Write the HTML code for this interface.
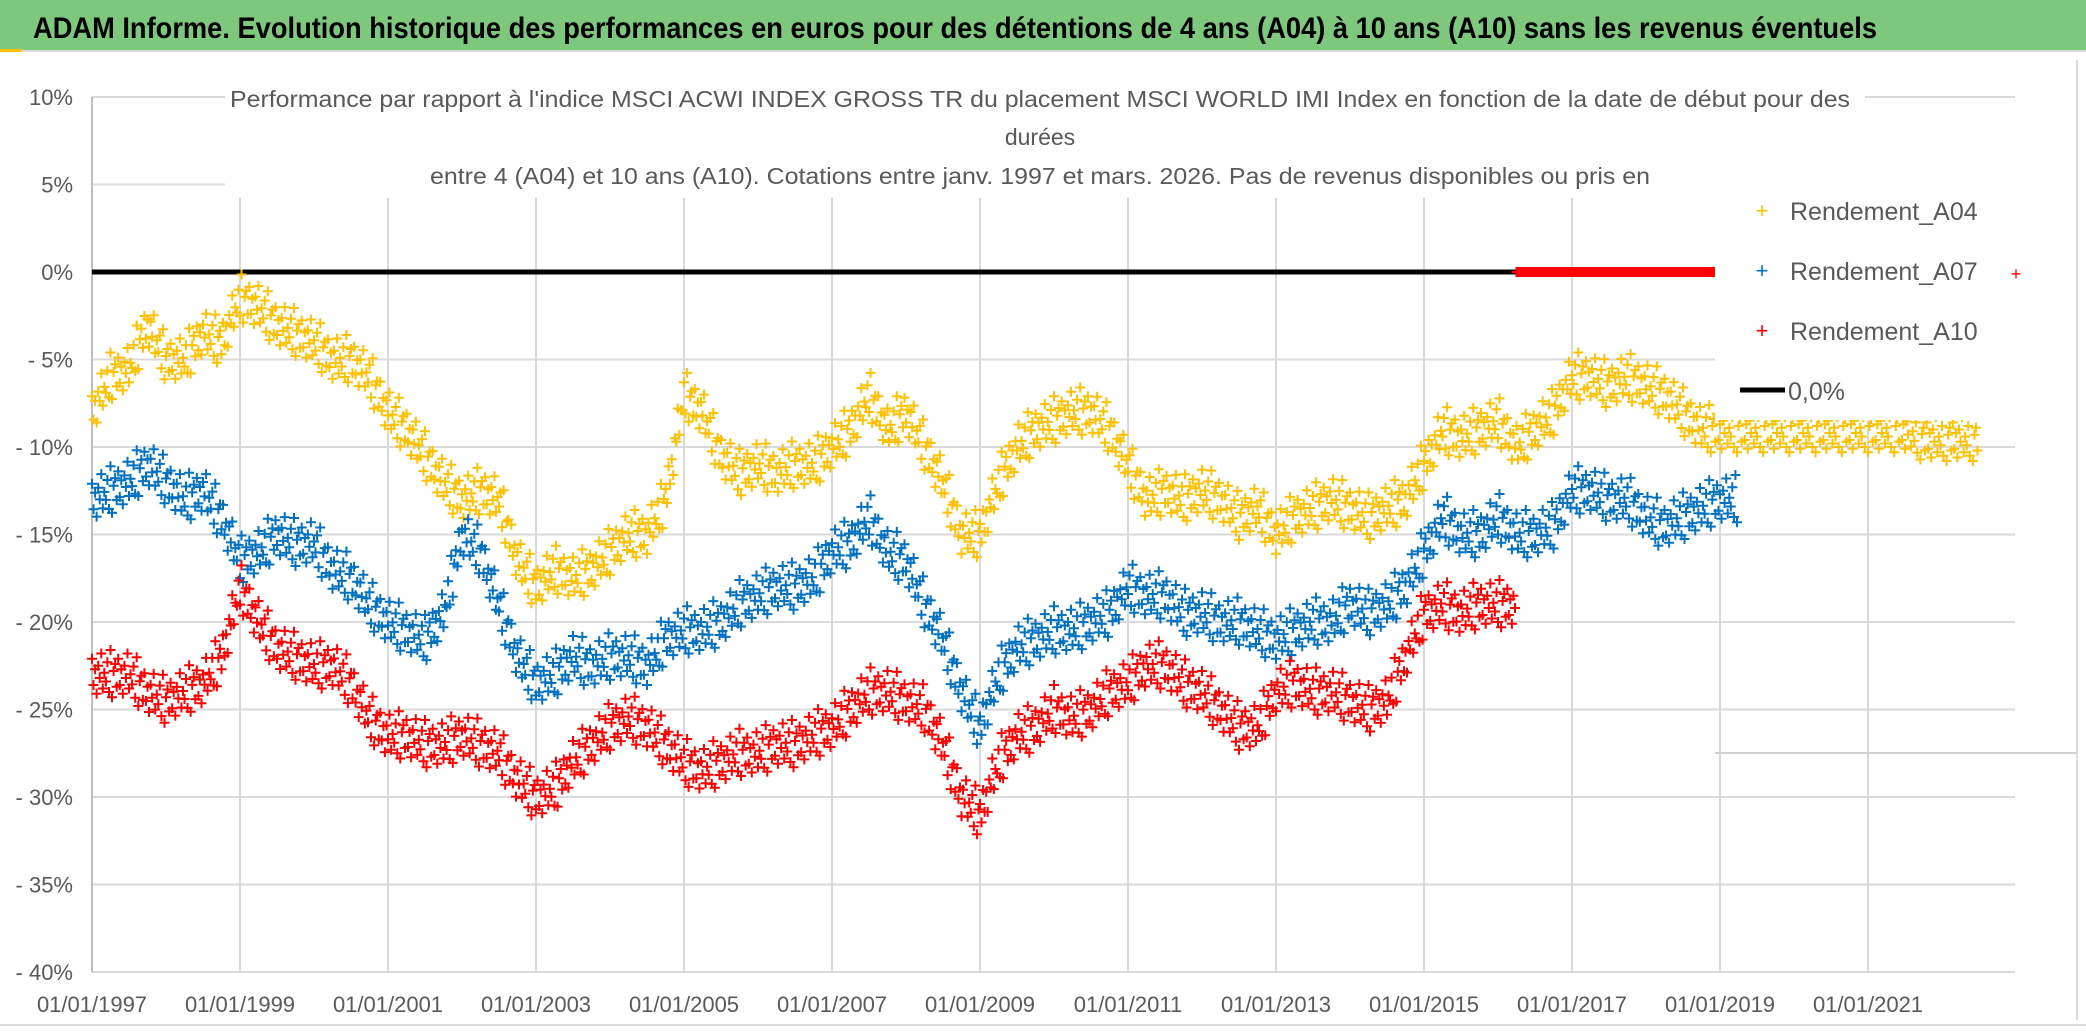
<!DOCTYPE html>
<html><head><meta charset="utf-8"><style>
body{margin:0;background:#fff;width:2086px;height:1031px;overflow:hidden}
svg{display:block;font-family:"Liberation Sans",sans-serif}
</style></head><body>
<svg id="c" width="2086" height="1031">
<rect x="0" y="0" width="2086" height="50" fill="#7DC87D"/>
<line x1="0" y1="51" x2="2086" y2="51" stroke="#ddd" stroke-width="2"/>
<rect x="0" y="49" width="22" height="3" fill="#FFC000"/>
<text x="33" y="38" font-size="30" font-weight="bold" fill="#000" textLength="1844" lengthAdjust="spacingAndGlyphs">ADAM Informe. Evolution historique des performances en euros pour des détentions de 4 ans (A04) à 10 ans (A10) sans les revenus éventuels</text>
<line x1="2077" y1="60" x2="2077" y2="1020" stroke="#ddd" stroke-width="2"/>
<line x1="0" y1="1025" x2="2086" y2="1025" stroke="#ddd" stroke-width="2"/>
<g id="grid"></g>
<g id="marks"></g>
<rect x="225" y="75" width="1640" height="120" fill="#fff"/>
<text x="1040" y="107" font-size="23" fill="#595959" text-anchor="middle" textLength="1620" lengthAdjust="spacingAndGlyphs">Performance par rapport à l'indice MSCI ACWI INDEX GROSS TR  du placement MSCI WORLD IMI Index en fonction de la date de début pour des</text>
<text x="1040" y="145" font-size="23" fill="#595959" text-anchor="middle">durées</text>
<text x="1040" y="184" font-size="23" fill="#595959" text-anchor="middle" textLength="1220" lengthAdjust="spacingAndGlyphs">entre 4 (A04) et 10 ans (A10). Cotations entre janv. 1997 et mars. 2026. Pas de revenus disponibles ou pris en</text>
<g id="axes"></g>
<g id="legend">
<rect x="1715" y="180" width="300" height="240" fill="#fff"/>
<text x="1762" y="218" font-size="22" fill="#FFC000" text-anchor="middle">+</text>
<text x="1790" y="220" font-size="25" fill="#595959">Rendement_A04</text>
<text x="1762" y="278" font-size="22" fill="#0070C0" text-anchor="middle">+</text>
<text x="1790" y="280" font-size="25" fill="#595959">Rendement_A07</text>
<text x="1762" y="338" font-size="22" fill="#FF0000" text-anchor="middle">+</text>
<text x="1790" y="340" font-size="25" fill="#595959">Rendement_A10</text>
<line x1="1740" y1="390" x2="1785" y2="390" stroke="#000" stroke-width="5"/>
<text x="1788" y="400" font-size="25" fill="#595959">0,0%</text>
<text x="2016" y="280" font-size="18" fill="#FF0000" text-anchor="middle">+</text>
</g>
</svg>
<script>
const yTicks=[10,5,0,-5,-10,-15,-20,-25,-30,-35,-40];
const yTickLabels=["10%","5%","0%","- 5%","- 10%","- 15%","- 20%","- 25%","- 30%","- 35%","- 40%"];
const xTicks=[1997,1999,2001,2003,2005,2007,2009,2011,2013,2015,2017,2019,2021];
const xTickLabels=["01/01/1997","01/01/1999","01/01/2001","01/01/2003","01/01/2005","01/01/2007","01/01/2009","01/01/2011","01/01/2013","01/01/2015","01/01/2017","01/01/2019","01/01/2021"];
const startYear=1997, step=0.25;
const a04=[-8,-6,-5.5,-3,-5,-5,-3.5,-4,-1.5,-2,-3,-3.5,-4,-5,-5,-6,-8,-9,-10.5,-12,-13,-12.5,-13,-16.5,-18,-17,-17.5,-17,-16,-15,-15,-13,-7,-8,-10.5,-11.5,-11,-11.5,-11,-11,-10,-9,-7,-9,-8,-10,-12,-15,-15,-12,-10,-9,-8.5,-8,-8,-9,-11,-13,-12.5,-13,-12.5,-13,-14,-13.5,-15,-14,-13.5,-13,-13.5,-14,-13.5,-13,-11,-9,-9.5,-9,-8.5,-10,-9,-8,-6,-6,-6.5,-6,-6.5,-7,-8,-9,-9,-9,-9,-9,-9,-9,-9,-9,-9,-9,-9,-9.5,-9.5,-9.5];
const a07=[-13,-12.5,-12,-11,-12,-13,-12.5,-14,-16.5,-16,-15,-15.5,-15.5,-17,-17.5,-19,-20,-20.5,-21,-19.5,-15,-16,-19,-22,-23.5,-23,-22,-22.5,-22,-22,-22.5,-21,-20.5,-20.5,-20,-19,-18.5,-18,-18,-17.5,-16,-15.5,-14,-16,-16.5,-19,-21,-24,-26,-23,-21.5,-21,-20.5,-20.5,-20,-19.5,-18,-18.5,-18.5,-19.5,-19.5,-20,-20,-20.5,-21,-20.5,-20,-20,-19,-19.5,-19,-18,-16,-14,-15,-15,-14,-15,-15,-14.5,-12.5,-12.5,-13,-13,-14,-14.5,-14,-13.5,-13];
const a10=[-23,-23,-23,-24,-24.5,-24,-23.5,-22,-18,-20,-21.5,-22,-22.5,-22.5,-23.5,-25.5,-26.5,-26.5,-27,-27,-26.5,-27,-27.5,-29,-30,-29.5,-28,-27,-26,-25.5,-26,-27,-28,-28.5,-28,-27.5,-27.5,-27,-27,-26.5,-26,-25,-24,-24,-24.5,-25,-27,-30,-31,-28,-26.5,-26,-25,-25.5,-25,-24,-23.5,-22.5,-22.5,-23.5,-24,-25,-26,-26,-24,-23.5,-24,-24,-24.5,-25,-24.5,-22,-19.5,-19,-19.5,-19,-19,0,0,0,0,0,0,0,0,0,0,0];
const spread=[0.9,-0.6,0.3,-1.1,0.5,-0.2,1.2,-0.8,0.1,-0.4,0.7,-1.0,1.4,-1.3,0.2,0.6,-0.7];
const NS="http://www.w3.org/2000/svg";
const X0=92,PXY=74,Y0=272,PXP=17.5;
const xs=y=>X0+(y-1997)*PXY, ys=v=>Y0-v*PXP;
const grid=document.getElementById('grid'),axes=document.getElementById('axes'),marks=document.getElementById('marks');
function mk(t,a,p){const e=document.createElementNS(NS,t);for(const k in a)e.setAttribute(k,a[k]);(p||grid).appendChild(e);return e;}
yTicks.forEach((v,i)=>{
 const l=mk('line',{x1:X0,x2:2015,y1:ys(v),y2:ys(v),stroke:'#d9d9d9','stroke-width':2});
 
 
 const t=mk('text',{x:73,y:ys(v)+8,'font-size':22,fill:'#595959','text-anchor':'end'},axes);
 t.textContent=yTickLabels[i];
 
 
});
xTicks.forEach((y,i)=>{
 const l=mk('line',{x1:xs(y),x2:xs(y),y1:198,y2:ys(-40),stroke:'#d9d9d9','stroke-width':2});
 
 
 const t=mk('text',{x:xs(y),y:1012,'font-size':22,fill:'#595959','text-anchor':'middle'},axes);
 t.textContent=xTickLabels[i];
 
 
});
mk('line',{x1:X0,x2:X0,y1:ys(10),y2:ys(-40),stroke:'#bfbfbf','stroke-width':2});
mk('line',{x1:1715,x2:2077,y1:753,y2:753,stroke:'#d0d0d0','stroke-width':2});
const zl=mk('line',{x1:X0,x2:1518,y1:ys(0),y2:ys(0),stroke:'#000','stroke-width':5},marks);


function series(vals,color,name){
 let d='';const N=12,s=5;let c=0;
 for(let i=0;i<vals.length;i++){
  let nxt=i+1<vals.length?vals[i+1]:vals[i];
  if(vals[i]===0||nxt===0) nxt=vals[i];
  for(let k=0;k<N;k++){
   const f=k/N,yr=startYear+(i+f)*step;
   const off=vals[i]===0?0:spread[c++%spread.length];
   const v=vals[i]+(nxt-vals[i])*f+off;
   const x=xs(yr),y=ys(v);
   d+=`M${(x-s).toFixed(1)} ${y.toFixed(1)}h${2*s}M${x.toFixed(1)} ${(y-s).toFixed(1)}v${2*s}`;
  }
 }
 const p=mk('path',{d:d,stroke:color,'stroke-width':2,fill:'none'},marks);
 
 
}
series(a04,'#FFC000','series-a04');
series(a07,'#0070C0','series-a07');
series(a10,'#FF0000','series-a10');
</script>
</body></html>
